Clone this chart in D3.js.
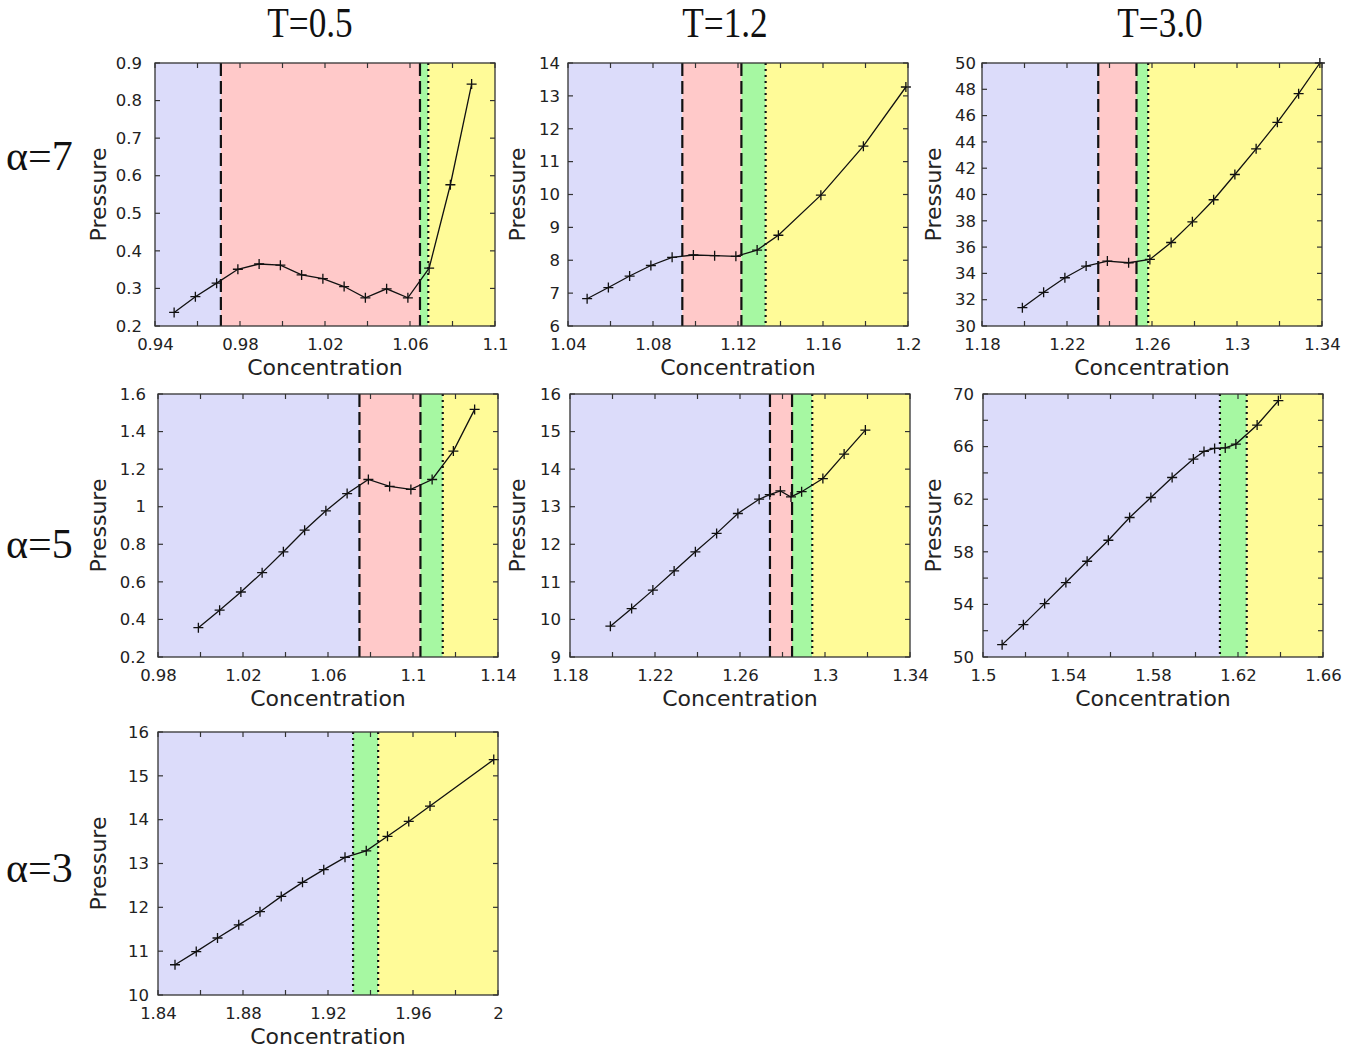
<!DOCTYPE html>
<html lang="en">
<head>
<meta charset="utf-8">
<title>Pressure vs Concentration</title>
<script src="https://cdn.jsdelivr.net/npm/d3@7"></script>
<style>
  body { margin:0; background:#fff; }
  .tick text { font-family:"DejaVu Sans", sans-serif; font-size:16.5px; fill:#222; }
  .axlab { font-family:"DejaVu Sans", sans-serif; font-size:22px; fill:#222; }
  .big { font-family:"Liberation Serif", serif; fill:#111; }
</style>
</head>
<body>
<script>
// ---- data ----
// alpha=7
var c_a7_t05 = [0.949,0.959,0.969,0.979,0.989,0.999,1.009,1.019,1.029,1.039,1.049,1.059,1.069,1.079,1.089];
var p_a7_t05 = [0.236,0.278,0.314,0.351,0.365,0.362,0.336,0.326,0.305,0.275,0.299,0.275,0.354,0.576,0.844];
var b_a7_t05 = [0.971,1.0647,1.0686];

var c_a7_t12 = [1.049,1.059,1.069,1.079,1.089,1.099,1.109,1.119,1.129,1.139,1.159,1.179,1.199];
var p_a7_t12 = [6.83,7.17,7.52,7.84,8.09,8.16,8.14,8.12,8.31,8.76,9.98,11.47,13.27];
var b_a7_t12 = [1.0938,1.1216,1.133];

var c_a7_t30 = [1.199,1.209,1.219,1.229,1.239,1.249,1.259,1.269,1.279,1.289,1.299,1.309,1.319,1.329,1.339];
var p_a7_t30 = [31.39,32.56,33.67,34.56,34.94,34.81,35.06,36.35,37.92,39.6,41.52,43.47,45.49,47.67,50.0];
var b_a7_t30 = [1.2347,1.2527,1.2582];

// alpha=5
var c_a5_t05 = [0.999,1.009,1.019,1.029,1.039,1.049,1.059,1.069,1.079,1.089,1.099,1.109,1.119,1.129];
var p_a5_t05 = [0.356,0.449,0.546,0.649,0.760,0.875,0.978,1.070,1.145,1.108,1.092,1.145,1.296,1.518];
var b_a5_t05 = [1.0748,1.1035,1.114];

var c_a5_t12 = [1.199,1.209,1.219,1.229,1.239,1.249,1.259,1.269,1.274,1.279,1.284,1.289,1.299,1.309,1.319];
var p_a5_t12 = [9.82,10.29,10.78,11.29,11.80,12.29,12.82,13.20,13.32,13.42,13.26,13.40,13.75,14.40,15.04];
var b_a5_t12 = [1.2741,1.2845,1.294];

var c_a5_t30 = [1.509,1.519,1.529,1.539,1.549,1.559,1.569,1.579,1.589,1.599,1.604,1.609,1.614,1.619,1.629,1.639];
var p_a5_t30 = [50.94,52.46,54.06,55.66,57.28,58.88,60.61,62.13,63.65,65.05,65.63,65.86,65.9,66.19,67.64,69.49];
var b_a5_t30 = [1.6115,1.6241];

// alpha=3
var c_a3_t05 = [1.848,1.858,1.868,1.878,1.888,1.898,1.908,1.918,1.928,1.938,1.948,1.958,1.968,1.998];
var p_a3_t05 = [10.69,10.99,11.30,11.60,11.90,12.25,12.57,12.86,13.14,13.29,13.62,13.96,14.31,15.37];
var b_a3_t05 = [1.9318,1.9436];

// tick labels
var xt_a7_t05 = [0.94,0.98,1.02,1.06,1.1],  yt_a7_t05 = [0.2,0.3,0.4,0.5,0.6,0.7,0.8,0.9];
var xt_a7_t12 = [1.04,1.08,1.12,1.16,1.2],  yt_a7_t12 = [6,7,8,9,10,11,12,13,14];
var xt_a7_t30 = [1.18,1.22,1.26,1.3,1.34],  yt_a7_t30 = [30,32,34,36,38,40,42,44,46,48,50];
var xt_a5_t05 = [0.98,1.02,1.06,1.1,1.14],  yt_a5_t05 = [0.2,0.4,0.6,0.8,1,1.2,1.4,1.6];
var xt_a5_t12 = [1.18,1.22,1.26,1.3,1.34],  yt_a5_t12 = [9,10,11,12,13,14,15,16];
var xt_a5_t30 = [1.5,1.54,1.58,1.62,1.66],  yt_a5_t30 = [50,54,58,62,66,70];
var xt_a3_t05 = [1.84,1.88,1.92,1.96,2],    yt_a3_t05 = [10,11,12,13,14,15,16];

var colTitles = ["T=0.5","T=1.2","T=3.0"];
var rowTitles = ["\u03b1=7","\u03b1=5","\u03b1=3"];

// ---- layout ----
var w = 1363, h = 1055, pw = 340, ph = 263;
var panels = [
  {c:c_a7_t05, p:p_a7_t05, b:b_a7_t05, xt:xt_a7_t05, yt:yt_a7_t05, ystep:0.1, x:155, y:63, lx:98, gap:13},
  {c:c_a7_t12, p:p_a7_t12, b:b_a7_t12, xt:xt_a7_t12, yt:yt_a7_t12, ystep:1, x:568, y:63, lx:517, gap:8},
  {c:c_a7_t30, p:p_a7_t30, b:b_a7_t30, xt:xt_a7_t30, yt:yt_a7_t30, ystep:2, x:982, y:63, lx:933, gap:6},
  {c:c_a5_t05, p:p_a5_t05, b:b_a5_t05, xt:xt_a5_t05, yt:yt_a5_t05, ystep:0.2, x:158, y:394, lx:98, gap:12},
  {c:c_a5_t12, p:p_a5_t12, b:b_a5_t12, xt:xt_a5_t12, yt:yt_a5_t12, ystep:1, x:570, y:394, lx:517, gap:9},
  {c:c_a5_t30, p:p_a5_t30, b:b_a5_t30, xt:xt_a5_t30, yt:yt_a5_t30, ystep:2, x:983, y:394, lx:933, gap:9},
  {c:c_a3_t05, p:p_a3_t05, b:b_a3_t05, xt:xt_a3_t05, yt:yt_a3_t05, ystep:1, x:158, y:732, lx:98, gap:9}
];

var svg = d3.select("body").append("svg")
  .attr("width", w).attr("height", h);

var fmt = function(v){ return String(+v.toFixed(3)); };

panels.forEach(function(d){
  var x = d3.scaleLinear().domain([d.xt[0], d.xt[d.xt.length-1]]).range([0, pw]);
  var y = d3.scaleLinear().domain([d.yt[0], d.yt[d.yt.length-1]]).range([ph, 0]);
  var g = svg.append("g").attr("transform", "translate(" + d.x + "," + d.y + ")");

  // phase regions
  var edges = [x.domain()[0]].concat(d.b, [x.domain()[1]]);
  var fills = d.b.length == 3 ? ["#dcdcfa","#ffc9c9","#a6f8a2","#fffb98"]
                              : ["#dcdcfa","#a6f8a2","#fffb98"];
  g.selectAll("rect.reg")
    .data(fills)
    .enter().append("rect")
    .attr("class","reg")
    .attr("x", function(f,i){ return x(edges[i]); })
    .attr("y", 0)
    .attr("width", function(f,i){ return x(edges[i+1]) - x(edges[i]); })
    .attr("height", ph)
    .attr("fill", function(f){ return f; });

  // boundaries: dashed then dotted
  g.selectAll("line.bnd")
    .data(d.b)
    .enter().append("line")
    .attr("x1", function(v){ return x(v); }).attr("x2", function(v){ return x(v); })
    .attr("y1", 0).attr("y2", ph)
    .attr("stroke", "#111")
    .attr("stroke-width", 2.2)
    .attr("stroke-dasharray", function(v,i){
      var dotted = d.b.length == 2 || i == 2;
      return dotted ? "2,4" : "13,5";
    });

  // ticks (inside, all four sides)
  var xminor = d3.range(x.domain()[0], x.domain()[1] + 1e-9, 0.02);
  var yminor = d3.range(y.domain()[0], y.domain()[1] + 1e-9, d.ystep);
  var tk = g.append("g").attr("stroke", "#333").attr("stroke-width", 1.2);
  xminor.forEach(function(v){
    tk.append("line").attr("x1", x(v)).attr("x2", x(v)).attr("y1", ph).attr("y2", ph-5);
    tk.append("line").attr("x1", x(v)).attr("x2", x(v)).attr("y1", 0).attr("y2", 5);
  });
  yminor.forEach(function(v){
    tk.append("line").attr("y1", y(v)).attr("y2", y(v)).attr("x1", 0).attr("x2", 5);
    tk.append("line").attr("y1", y(v)).attr("y2", y(v)).attr("x1", pw).attr("x2", pw-5);
  });

  // tick labels through axes
  var xa = g.append("g").attr("transform", "translate(0," + ph + ")")
    .call(d3.axisBottom(x).tickValues(d.xt).tickFormat(fmt).tickSize(0).tickPadding(12));
  var ya = g.append("g")
    .call(d3.axisLeft(y).tickValues(d.yt).tickFormat(fmt).tickSize(0).tickPadding(d.gap));
  xa.select(".domain").remove();
  ya.select(".domain").remove();

  // series
  var pts = d.c.map(function(v,i){ return [v, d.p[i]]; });
  g.append("path")
    .datum(pts)
    .attr("fill", "none")
    .attr("stroke", "#111")
    .attr("stroke-width", 1.3)
    .attr("d", d3.line().x(function(q){ return x(q[0]); }).y(function(q){ return y(q[1]); }));
  g.selectAll("path.mk")
    .data(pts)
    .enter().append("path")
    .attr("class","mk")
    .attr("transform", function(q){ return "translate(" + x(q[0]) + "," + y(q[1]) + ")"; })
    .attr("d", "M-5,0H5M0,-5V5")
    .attr("stroke", "#111")
    .attr("stroke-width", 1.3);

  // frame
  g.append("rect")
    .attr("width", pw).attr("height", ph)
    .attr("fill", "none").attr("stroke", "#333").attr("stroke-width", 1.3);

  // axis titles
  svg.append("text").attr("class","axlab")
    .attr("x", d.x + pw/2).attr("y", d.y + ph + 49)
    .attr("text-anchor","middle")
    .text("Concentration");
  svg.append("text").attr("class","axlab")
    .attr("transform", "translate(" + d.lx + "," + (d.y + ph/2) + ") rotate(-90)")
    .attr("text-anchor","middle")
    .attr("dy", "0.35em")
    .text("Pressure");
});

// column and row headers
var colX = [310, 725, 1160];
colTitles.forEach(function(t,i){
  svg.append("text").attr("class","big")
    .attr("transform", "translate(" + colX[i] + ",37) scale(0.82,1)")
    .attr("text-anchor","middle")
    .attr("font-size", 43)
    .text(t);
});
var rowY = [170, 558, 882];
rowTitles.forEach(function(t,i){
  svg.append("text").attr("class","big")
    .attr("x", 6).attr("y", rowY[i])
    .attr("font-size", 42)
    .text(t);
});
</script>
</body>
</html>
